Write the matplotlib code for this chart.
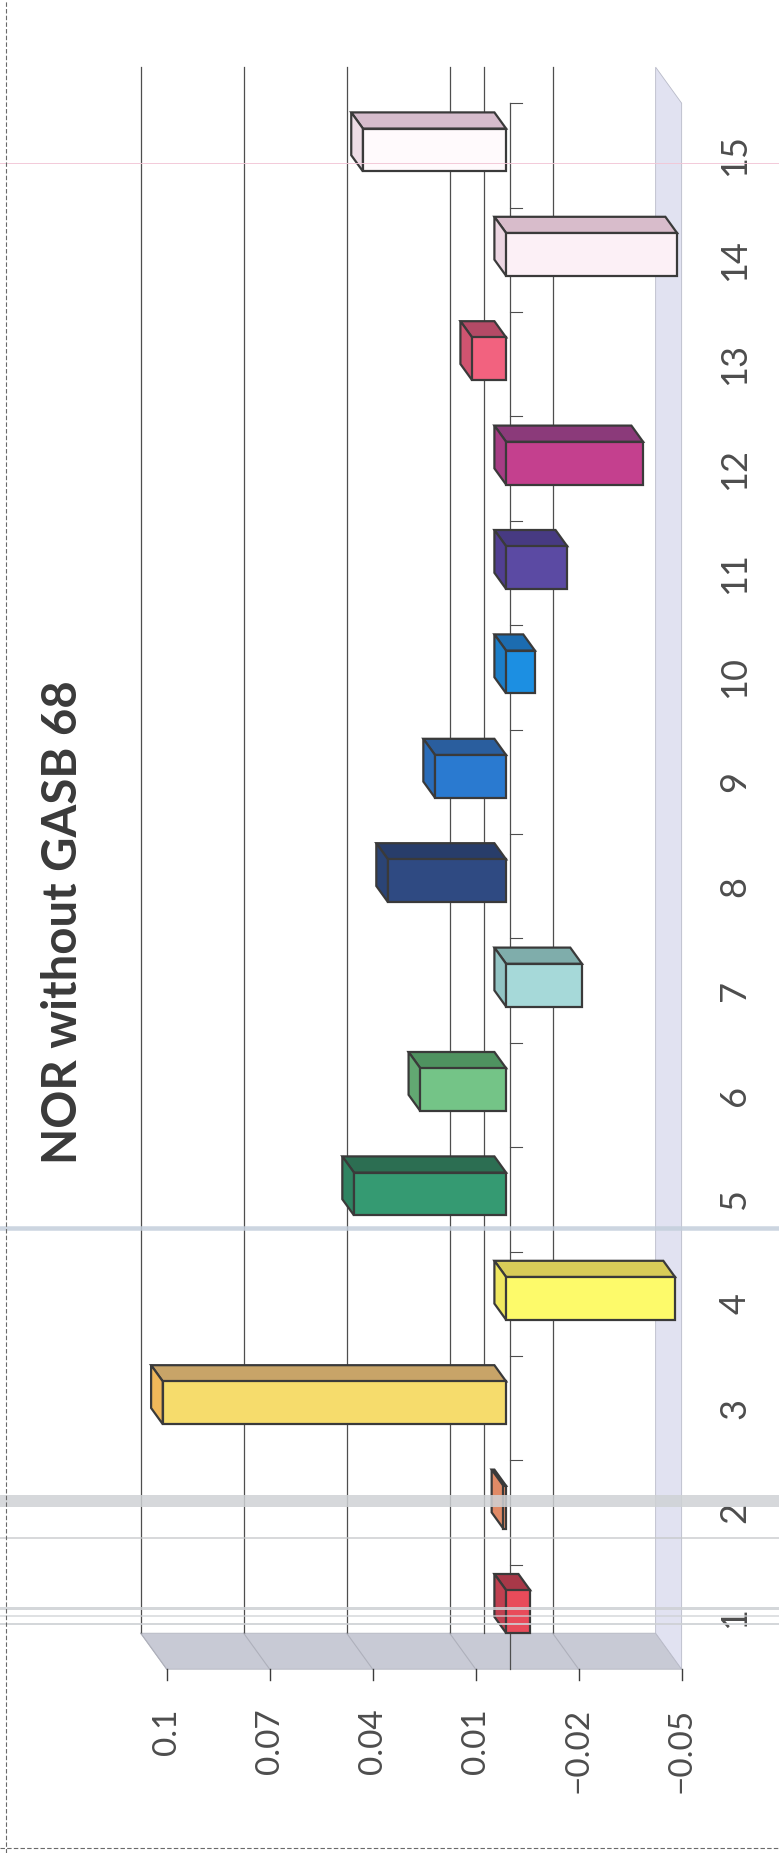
import matplotlib
matplotlib.use("Agg")
import matplotlib.pyplot as plt
from matplotlib.patches import Polygon
from matplotlib.lines import Line2D

# ── data ────────────────────────────────────────────────────────────────
categories = list(range(1, 16))
values = [-0.0070, 0.0008, 0.1000, -0.0492, 0.0443, 0.0250, -0.0221, 0.0344,
          0.0207, -0.0084, -0.0178, -0.0399, 0.0099, -0.0498, 0.0417]
value_ticks = [0.1, 0.07, 0.04, 0.01, -0.02, -0.05]
tick_labels = ["0.1", "0.07", "0.04", "0.01", "\u22120.02", "\u22120.05"]
title = "NOR without GASB 68"

# front / top / side shading of each box
front_colors = ["#e84b5a", "#e8906a", "#f6dc6c", "#fdfa6a", "#359a72",
                "#74c487", "#a6d9d9", "#2f4a82", "#2a7ad0", "#1c8fe2",
                "#5b4aa3", "#c4408e", "#f2627f", "#fcf0f6", "#fffafc"]
top_colors = ["#a83848", "#b06a50", "#c8a468", "#d8cc58", "#2c6e52",
              "#4f9260", "#7fadab", "#283d6a", "#2a5e9e", "#1c6cb0",
              "#473a82", "#8b3a7a", "#b44a66", "#d8bccb", "#d6bccc"]
side_colors = ["#c04050", "#e08a66", "#f0b85a", "#f0e860", "#2f8462",
               "#62a872", "#92c4c4", "#2b4475", "#2a6cb8", "#1c7ec8",
               "#513f92", "#a63c84", "#d05470", "#ecd6e2", "#eedde6"]

# ── layout (chart is printed turned 90°, values run right-to-left) ──────
W, H = 779, 1853
PX_V, X0 = 3433.0, 510.0     # px per value unit, px of value 0
PX_C, Y1 = 104.4, 1617.0     # px per category, px of category 1
DV, DC = 26 / PX_V, 36 / PX_C  # depth of the 3-D box (front -> back)
VMIN, VMAX = -0.05, 0.1
CMIN, CMAX = 0.5, 15.5
BAR_H = 0.41
D_FRONT, D_BACK = 0.15, 0.6
EDGE = "#3a3a3a"
GRID = "#4e4e4e"
FONT = ["Lato", "DejaVu Sans"]


def P(v, c, d=0.0):
    return (v + DV * d, c + DC * d)


fig = plt.figure(figsize=(W / 100, H / 100), dpi=100)
fig.patch.set_facecolor("white")
ax = fig.add_axes([0, 0, 1, 1])
ax.set_xlim(X0 / PX_V, (X0 - W) / PX_V)
ax.set_ylim(1 - (H - Y1) / PX_C, 1 + Y1 / PX_C)
ax.axis("off")

# walls
ax.add_patch(Polygon([P(VMAX, CMIN, 1), P(VMIN, CMIN, 1), P(VMIN, CMIN, 0), P(VMAX, CMIN, 0)],
                     closed=True, facecolor="#c8cad5", edgecolor="#b4b6c0", lw=0.6, zorder=1))
ax.add_patch(Polygon([P(VMIN, CMIN, 1), P(VMIN, CMAX, 1), P(VMIN, CMAX, 0), P(VMIN, CMIN, 0)],
                     closed=True, facecolor="#e1e2f1", edgecolor="#b8bac8", lw=0.6, zorder=1))

# gridlines on the back wall and across the side wall
for v in value_ticks[:-1] + [0.0]:
    (x0, y0), (x1, y1) = P(v, CMIN, 1), P(v, CMAX, 1)
    ax.plot([x0, x1], [y0, y1], color=GRID, lw=0.9, zorder=2)
for v in value_ticks[:-1]:
    (x0, y0), (x1, y1) = P(v, CMIN, 1), P(v, CMIN, 0)
    ax.plot([x0, x1], [y0, y1], color="#aeb0bb", lw=0.8, zorder=2)

# category axis at zero with boundary ticks
ax.plot([0, 0], [CMIN, CMAX], color=GRID, lw=0.9, zorder=1.5)
for k in range(1, 16):
    ax.plot([0, -0.0035], [k + 0.5, k + 0.5], color=GRID, lw=0.8, zorder=1.5)

# value ticks and labels
for v, lab in zip(value_ticks, tick_labels):
    ax.plot([v, v], [CMIN, CMIN - 0.1], color="#3c3c3c", lw=1.0, zorder=2)
    ax.text(v, 0.128, lab, rotation=90, ha="center", va="top",
            fontsize=24, color="#4d4d4d", family=FONT)

# category labels
for c in categories:
    ax.text(-0.0655, c, str(c), rotation=90, ha="center", va="center",
            fontsize=26, color="#4d4d4d", family=FONT)

# boxes: top and side faces first, then front faces via barh
for c, val, tc, sc in zip(categories, values, top_colors, side_colors):
    yt, yb = c + BAR_H / 2, c - BAR_H / 2
    ax.add_patch(Polygon([P(0, yt, D_FRONT), P(val, yt, D_FRONT), P(val, yt, D_BACK), P(0, yt, D_BACK)],
                         closed=True, facecolor=tc, edgecolor=EDGE, lw=1.6, zorder=3))
    vm = max(val, 0)
    ax.add_patch(Polygon([P(vm, yb, D_FRONT), P(vm, yt, D_FRONT), P(vm, yt, D_BACK), P(vm, yb, D_BACK)],
                         closed=True, facecolor=sc, edgecolor=EDGE, lw=1.6, zorder=3))
ax.barh([c + DC * D_FRONT for c in categories], values, height=BAR_H, left=DV * D_FRONT,
        color=front_colors, edgecolor=EDGE, linewidth=1.6, zorder=4)

# title
fig.text(63 / W, 1 - 922 / H, title, rotation=90, ha="center", va="center",
         fontsize=34, fontweight="bold", color="#3a3a3a", family=FONT)

# streaks left by the scanner
streaks = [(163, 1.0, "#f2c6d6", 0.9), (1228, 4.5, "#c3cedb", 0.85),
           (1501, 12.0, "#cfd2d5", 0.85), (1538, 1.5, "#c6c8ca", 0.9),
           (1608, 3.0, "#cdd0d4", 0.85), (1616, 1.5, "#cdd0d4", 0.85),
           (1624, 2.0, "#cdd0d4", 0.85)]
for y, t, col, a in streaks:
    fig.add_artist(Line2D([0, 1], [1 - y / H] * 2, transform=fig.transFigure,
                          color=col, lw=t * 0.72, alpha=a, zorder=10))

# page border
fig.add_artist(Line2D([6 / W, 6 / W], [0, 1], transform=fig.transFigure,
                      color="#6a6a6a", lw=0.8, ls=(0, (4, 2)), zorder=10))
fig.add_artist(Line2D([0, 1], [1 - 1848 / H] * 2, transform=fig.transFigure,
                      color="#6a6a6a", lw=0.8, ls=(0, (4, 2)), zorder=10))

fig.savefig("out.png", dpi=100, facecolor="white")
